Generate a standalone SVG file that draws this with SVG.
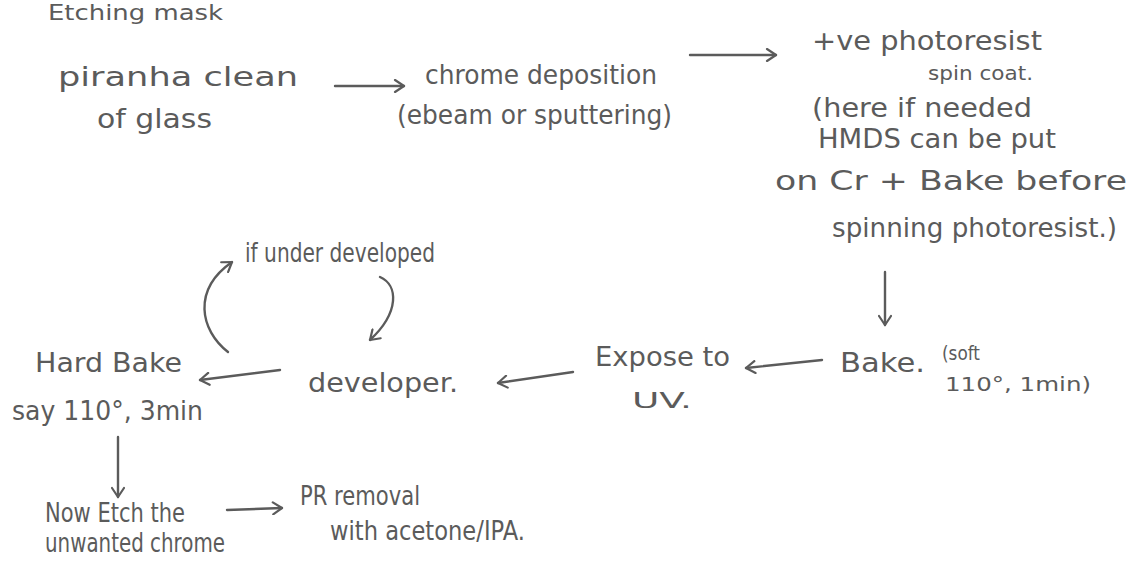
<svg xmlns="http://www.w3.org/2000/svg" width="1137" height="587" viewBox="0 0 1137 587">
<defs>
<marker id="ah" markerWidth="14" markerHeight="14" refX="11" refY="7" orient="auto" markerUnits="userSpaceOnUse">
<polyline points="2,1 11,7 2,13" fill="none" stroke="#5b5b5b" stroke-width="2.2" stroke-linecap="round" stroke-linejoin="round"/>
</marker>
<style>
text{font-family:"DejaVu Sans","Liberation Sans",sans-serif;fill:#5b5b5b;font-size:26px;}
.s{font-size:20px}
.c{fill:none;stroke:#5b5b5b;stroke-width:2.4;stroke-linecap:round;marker-end:url(#ah)}
</style>
</defs>
<rect width="1137" height="587" fill="#ffffff"/>
<g id="etching-mask"><text x="48" y="20" style="font-size:21px" textLength="175" lengthAdjust="spacingAndGlyphs">Etching mask</text></g>
<g id="piranha"><text x="58" y="86" textLength="240" lengthAdjust="spacingAndGlyphs">piranha clean</text><text x="97" y="128" textLength="115" lengthAdjust="spacingAndGlyphs">of glass</text></g>
<g id="chrome"><text x="425" y="84" style="font-size:27px" textLength="232" lengthAdjust="spacingAndGlyphs">chrome deposition</text><text x="397" y="124" textLength="275" lengthAdjust="spacingAndGlyphs">(ebeam or sputtering)</text></g>
<g id="photoresist"><text x="812" y="50" textLength="230" lengthAdjust="spacingAndGlyphs">+ve photoresist</text><text x="928" y="80" class="s" textLength="105" lengthAdjust="spacingAndGlyphs">spin coat.</text><text x="812" y="117" textLength="220" lengthAdjust="spacingAndGlyphs">(here if needed</text><text x="818" y="148" textLength="238" lengthAdjust="spacingAndGlyphs">HMDS can be put</text><text x="775" y="190" textLength="352" lengthAdjust="spacingAndGlyphs">on Cr + Bake before</text><text x="832" y="237" textLength="285" lengthAdjust="spacingAndGlyphs">spinning photoresist.)</text></g>
<g id="bake"><text x="840" y="372" textLength="85" lengthAdjust="spacingAndGlyphs">Bake.</text><text x="942" y="360" class="s" textLength="38" lengthAdjust="spacingAndGlyphs">(soft</text><text x="945" y="391" class="s" textLength="146" lengthAdjust="spacingAndGlyphs">110°, 1min)</text></g>
<g id="expose"><text x="595" y="366" textLength="135" lengthAdjust="spacingAndGlyphs">Expose to</text><text x="632" y="408" style="font-size:22px" textLength="60" lengthAdjust="spacingAndGlyphs">UV.</text></g>
<g id="developer"><text x="308" y="392" textLength="150" lengthAdjust="spacingAndGlyphs">developer.</text></g>
<g id="hard-bake"><text x="35" y="372" textLength="147" lengthAdjust="spacingAndGlyphs">Hard Bake</text><text x="12" y="420" textLength="191" lengthAdjust="spacingAndGlyphs">say 110°, 3min</text></g>
<g id="under-developed"><text x="245" y="262" textLength="190" lengthAdjust="spacingAndGlyphs">if under developed</text></g>
<g id="etch-chrome"><text x="45" y="522" textLength="140" lengthAdjust="spacingAndGlyphs">Now Etch the</text><text x="45" y="552" textLength="180" lengthAdjust="spacingAndGlyphs">unwanted chrome</text></g>
<g id="pr-removal"><text x="300" y="505" textLength="120" lengthAdjust="spacingAndGlyphs">PR removal</text><text x="330" y="540" textLength="195" lengthAdjust="spacingAndGlyphs">with acetone/IPA.</text></g>
<g id="connectors">
<path class="c" d="M335,86 L404,86"/>
<path class="c" d="M690,55 L776,55"/>
<path class="c" d="M885,272 L885,325"/>
<path class="c" d="M822,360 L746,368"/>
<path class="c" d="M573,372 L498,383"/>
<path class="c" d="M280,370 L200,380"/>
<path class="c" d="M118,437 L118,497"/>
<path class="c" d="M228,352 C200,330 192,290 232,262"/>
<path class="c" d="M380,277 C398,285 400,312 370,340"/>
<path class="c" d="M227,510 L282,508"/>
</g>
</svg>
